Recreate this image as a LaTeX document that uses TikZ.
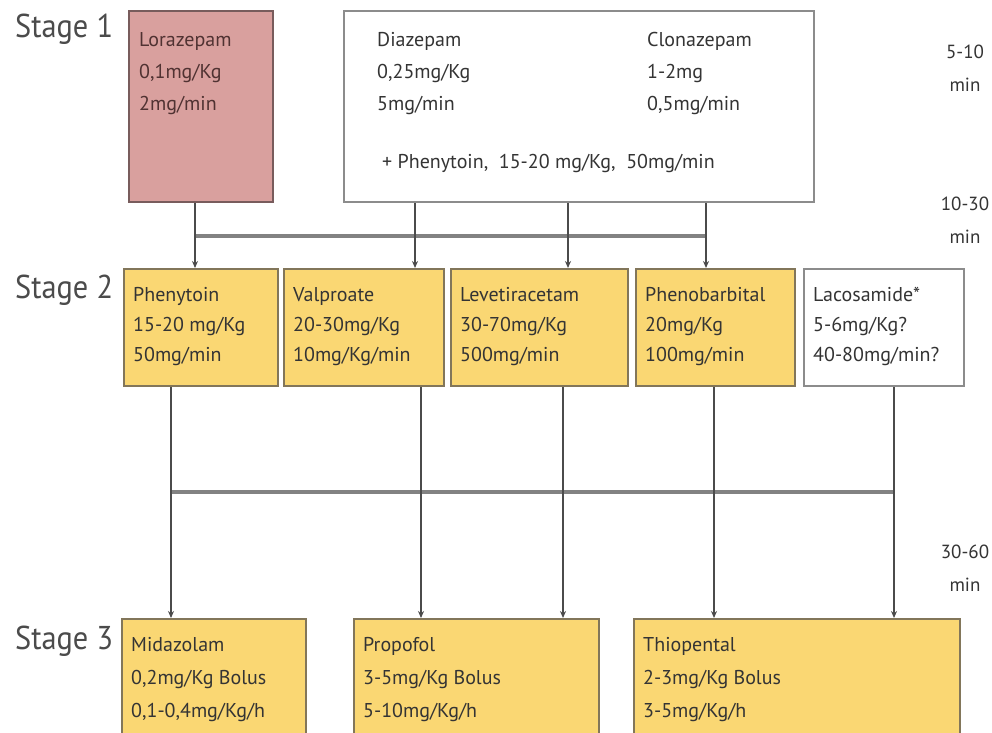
\documentclass[tikz,border=0pt]{standalone}
\usepackage{fontspec}
\setmainfont{PT Sans}
\usetikzlibrary{arrows.meta}
\definecolor{pinkfill}{RGB}{217,160,158}
\definecolor{pinkedge}{RGB}{120,92,92}
\definecolor{yelfill}{RGB}{250,215,115}
\definecolor{yeledge}{RGB}{130,118,90}
\definecolor{greyedge}{RGB}{140,140,140}
\definecolor{txt}{RGB}{52,52,52}
\definecolor{pinktxt}{RGB}{80,50,50}
\definecolor{stagetxt}{RGB}{75,75,75}
\definecolor{hline}{RGB}{130,130,130}
\definecolor{vline}{RGB}{75,75,75}
\tikzset{
  x=1pt, y=-1pt,
  boxbase/.style={draw, line width=2pt, anchor=north west, inner sep=0pt},
  pinkbox/.style={boxbase, fill=pinkfill, draw=pinkedge},
  yelbox/.style={boxbase, fill=yelfill, draw=yeledge},
  whitebox/.style={boxbase, fill=white, draw=greyedge},
  boxtext/.style={anchor=north west, align=left, inner sep=0pt, text=txt, font=\fontsize{20}{30}\selectfont},
  stagelbl/.style={anchor=west, inner sep=0pt, text=stagetxt, font=\fontsize{33}{36}\selectfont},
  timelbl/.style={anchor=center, align=center, inner sep=0pt, text=txt, font=\fontsize{19}{33}\selectfont},
  vconn/.style={draw=vline, line width=1.8pt, -{Stealth[length=7pt,width=6pt]}},
  hconn/.style={draw=hline, line width=3.5pt},
}
\begin{document}
\begin{tikzpicture}
\useasboundingbox (0,0) rectangle (992,732);
\fill[white] (0,0) rectangle (992,732);

% Stage labels
\node[stagelbl] (s1) at (15,29) {\scalebox{0.92}[1]{Stage 1}};
\node[stagelbl] (s2) at (15,290) {\scalebox{0.92}[1]{Stage 2}};
\node[stagelbl] (s3) at (15,641) {\scalebox{0.92}[1]{Stage 3}};

% time labels
\node[timelbl] (t1) at (965,68) {5-10\\min};
\node[timelbl] (t2) at (965,220) {10-30\\min};
\node[timelbl] (t3) at (965,568) {30-60\\min};

% Stage 1 boxes
\node[pinkbox, minimum width=144pt, minimum height=191pt] (lor) at (128,10) {};
\node[boxtext, text=pinktxt, font=\fontsize{20}{32}\selectfont] (lort) at (139,32) {Lorazepam\\0,1mg/Kg\\2mg/min};
\node[whitebox, minimum width=470pt, minimum height=191pt] (dia) at (343,10) {};
\node[boxtext, font=\fontsize{20}{32}\selectfont] (diat) at (377,32) {Diazepam\\0,25mg/Kg\\5mg/min};
\node[boxtext, font=\fontsize{20}{32}\selectfont] (clot) at (647,32) {Clonazepam\\1-2mg\\0,5mg/min};
\node[boxtext] (phet0) at (382,154) {+ Phenytoin,\ \ 15-20 mg/Kg,\ \ 50mg/min};

% Stage 2 boxes
\node[yelbox, minimum width=154pt, minimum height=117pt] (phe) at (123,268) {};
\node[boxtext] (phet) at (133,287) {Phenytoin\\15-20 mg/Kg\\50mg/min};
\node[yelbox, minimum width=160pt, minimum height=117pt] (val) at (283,268) {};
\node[boxtext] (valt) at (293,287) {Valproate\\20-30mg/Kg\\10mg/Kg/min};
\node[yelbox, minimum width=177pt, minimum height=117pt] (lev) at (450,268) {};
\node[boxtext] (levt) at (460,287) {Levetiracetam\\30-70mg/Kg\\500mg/min};
\node[yelbox, minimum width=159pt, minimum height=117pt] (phb) at (635,268) {};
\node[boxtext] (phbt) at (645,287) {Phenobarbital\\20mg/Kg\\100mg/min};
\node[whitebox, minimum width=160pt, minimum height=117pt] (lac) at (803,268) {};
\node[boxtext] (lact) at (813,287) {Lacosamide*\\5-6mg/Kg?\\40-80mg/min?};

% Stage 3 boxes
\node[yelbox, minimum width=184pt, minimum height=120pt] (mid) at (121,618) {};
\node[boxtext, font=\fontsize{20}{33}\selectfont] (midt) at (131,637) {Midazolam\\0,2mg/Kg Bolus\\0,1-0,4mg/Kg/h};
\node[yelbox, minimum width=245pt, minimum height=120pt] (pro) at (353,618) {};
\node[boxtext, font=\fontsize{20}{33}\selectfont] (prot) at (363,637) {Propofol\\3-5mg/Kg Bolus\\5-10mg/Kg/h};
\node[yelbox, minimum width=326pt, minimum height=120pt] (thi) at (633,618) {};
\node[boxtext, font=\fontsize{20}{33}\selectfont] (thit) at (643,637) {Thiopental\\2-3mg/Kg Bolus\\3-5mg/Kg/h};

% Stage 1 -> Stage 2 connectors
\coordinate (a1) at (195,236);
\coordinate (a2) at (415,236);
\coordinate (a3) at (568,236);
\coordinate (a4) at (706,236);
\draw[hconn] (a1) -- (a4);
\draw[vconn] (lor.south -| a1) -- (a1 |- phe.north);
\draw[vconn] (dia.south -| a2) -- (a2 |- val.north);
\draw[vconn] (dia.south -| a3) -- (a3 |- lev.north);
\draw[vconn] (dia.south -| a4) -- (a4 |- phb.north);

% Stage 2 -> Stage 3 connectors
\coordinate (b1) at (171,492);
\coordinate (b2) at (421,492);
\coordinate (b3) at (563,492);
\coordinate (b4) at (714,492);
\coordinate (b5) at (894,492);
\draw[hconn] (b1) -- (b5);
\draw[vconn] (phe.south -| b1) -- (b1 |- mid.north);
\draw[vconn] (val.south -| b2) -- (b2 |- pro.north);
\draw[vconn] (lev.south -| b3) -- (b3 |- pro.north);
\draw[vconn] (phb.south -| b4) -- (b4 |- thi.north);
\draw[vconn] (lac.south -| b5) -- (b5 |- thi.north);
\end{tikzpicture}
\end{document}
